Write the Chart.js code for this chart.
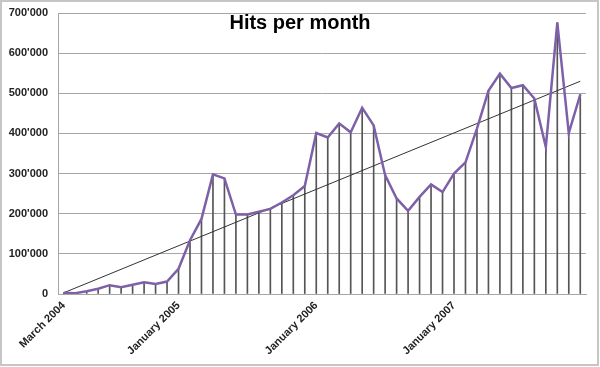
<!DOCTYPE html>
<html>
<head>
<meta charset="utf-8">
<script src="https://cdn.jsdelivr.net/npm/chart.js@4/dist/chart.umd.min.js"></script>
<style>
  html, body { margin: 0; padding: 0; background: #fff; }
  #wrap { position: relative; width: 600px; height: 367px; }
  #frame { position: absolute; left: 0; top: 0; width: 599px; height: 366px; box-sizing: border-box; border: 2px solid #c6c6c6; pointer-events: none; }
</style>
</head>
<body>
<div id="wrap">
  <canvas id="c" width="600" height="367"></canvas>
  <div id="frame"></div>
</div>
<script>
const chartTitle = 'Hits per month';

const months = [
  'March 2004','April 2004','May 2004','June 2004','July 2004','August 2004','September 2004','October 2004','November 2004','December 2004',
  'January 2005','February 2005','March 2005','April 2005','May 2005','June 2005','July 2005','August 2005','September 2005','October 2005','November 2005','December 2005',
  'January 2006','February 2006','March 2006','April 2006','May 2006','June 2006','July 2006','August 2006','September 2006','October 2006','November 2006','December 2006',
  'January 2007','February 2007','March 2007','April 2007','May 2007','June 2007','July 2007','August 2007','September 2007','October 2007','November 2007','December 2007'
];

const hits = [
  3000, 2000, 7000, 13000, 22000, 17000, 23000, 29000, 25000, 31000,
  63000, 134000, 187000, 298000, 288000, 198000, 198000, 205000, 212000, 228000, 246000, 269000,
  401000, 390000, 425000, 403000, 464000, 420000, 296000, 238000, 207000, 242000, 273000, 254000,
  300000, 328000, 412000, 506000, 549000, 513000, 520000, 487000, 366000, 676000, 401000, 497000
];

const trendStart = 3000;
const trendEnd = 530000;

const shownTickLabels = ['March 2004', 'January 2005', 'January 2006', 'January 2007'];
const yTicks = [0, 100000, 200000, 300000, 400000, 500000, 600000, 700000];

const trend = months.map((m, i) => i === 0 ? trendStart : (i === months.length - 1 ? trendEnd : null));

function fmt(v) {
  return String(v).replace(/\B(?=(\d{3})+(?!\d))/g, "'");
}

const titlePlugin = {
  id: 'overlayTitle',
  afterDraw(chart) {
    const ctx = chart.ctx;
    ctx.save();
    ctx.font = 'bold 20px "Liberation Sans", Arial, sans-serif';
    ctx.fillStyle = '#000';
    ctx.textAlign = 'center';
    ctx.textBaseline = 'alphabetic';
    ctx.fillText(chartTitle, 300, 29);
    ctx.restore();
  }
};

new Chart(document.getElementById('c'), {
  type: 'bar',
  data: {
    labels: months,
    datasets: [
      {
        type: 'line',
        data: hits,
        borderColor: '#7D60A8',
        borderWidth: 2.5,
        pointRadius: 0,
        tension: 0,
        fill: false
      },
      {
        type: 'line',
        data: trend,
        spanGaps: true,
        borderColor: '#333333',
        borderWidth: 1,
        pointRadius: 0,
        tension: 0,
        fill: false
      },
      {
        type: 'bar',
        data: hits,
        backgroundColor: '#555555',
        borderWidth: 0,
        barThickness: 1
      }
    ]
  },
  options: {
    responsive: false,
    animation: false,
    devicePixelRatio: 1,
    layout: { padding: { left: 0, right: 14, top: 13, bottom: 0 } },
    plugins: {
      legend: { display: false },
      tooltip: { enabled: false },
      title: { display: false }
    },
    scales: {
      x: {
        offset: true,
        grid: { display: false, drawTicks: false },
        border: { display: true, color: '#a6a6a6', width: 1 },
        ticks: {
          autoSkip: false,
          maxRotation: 45,
          minRotation: 45,
          padding: 5,
          color: '#222',
          font: { family: '"Liberation Sans", Arial, sans-serif', size: 11, weight: 'bold' },
          callback: function(value) {
            const lab = this.getLabelForValue(value);
            return shownTickLabels.includes(lab) ? lab : '';
          }
        },
        afterFit(scale) { scale.height = 73; }
      },
      y: {
        min: 0,
        max: 700000,
        afterBuildTicks(scale) { scale.ticks = yTicks.map(v => ({ value: v })); },
        grid: { color: '#a6a6a6', lineWidth: 1, drawTicks: false },
        border: { display: true, color: '#a6a6a6', width: 1 },
        ticks: {
          padding: 10,
          color: '#222',
          font: { family: '"Liberation Sans", Arial, sans-serif', size: 11, weight: 'bold' },
          callback: (v) => fmt(v)
        },
        afterFit(scale) {
          scale.width = 58;
          scale.paddingTop = 6;
          scale.paddingBottom = 6;
        }
      }
    }
  },
  plugins: [titlePlugin]
});
</script>
</body>
</html>
